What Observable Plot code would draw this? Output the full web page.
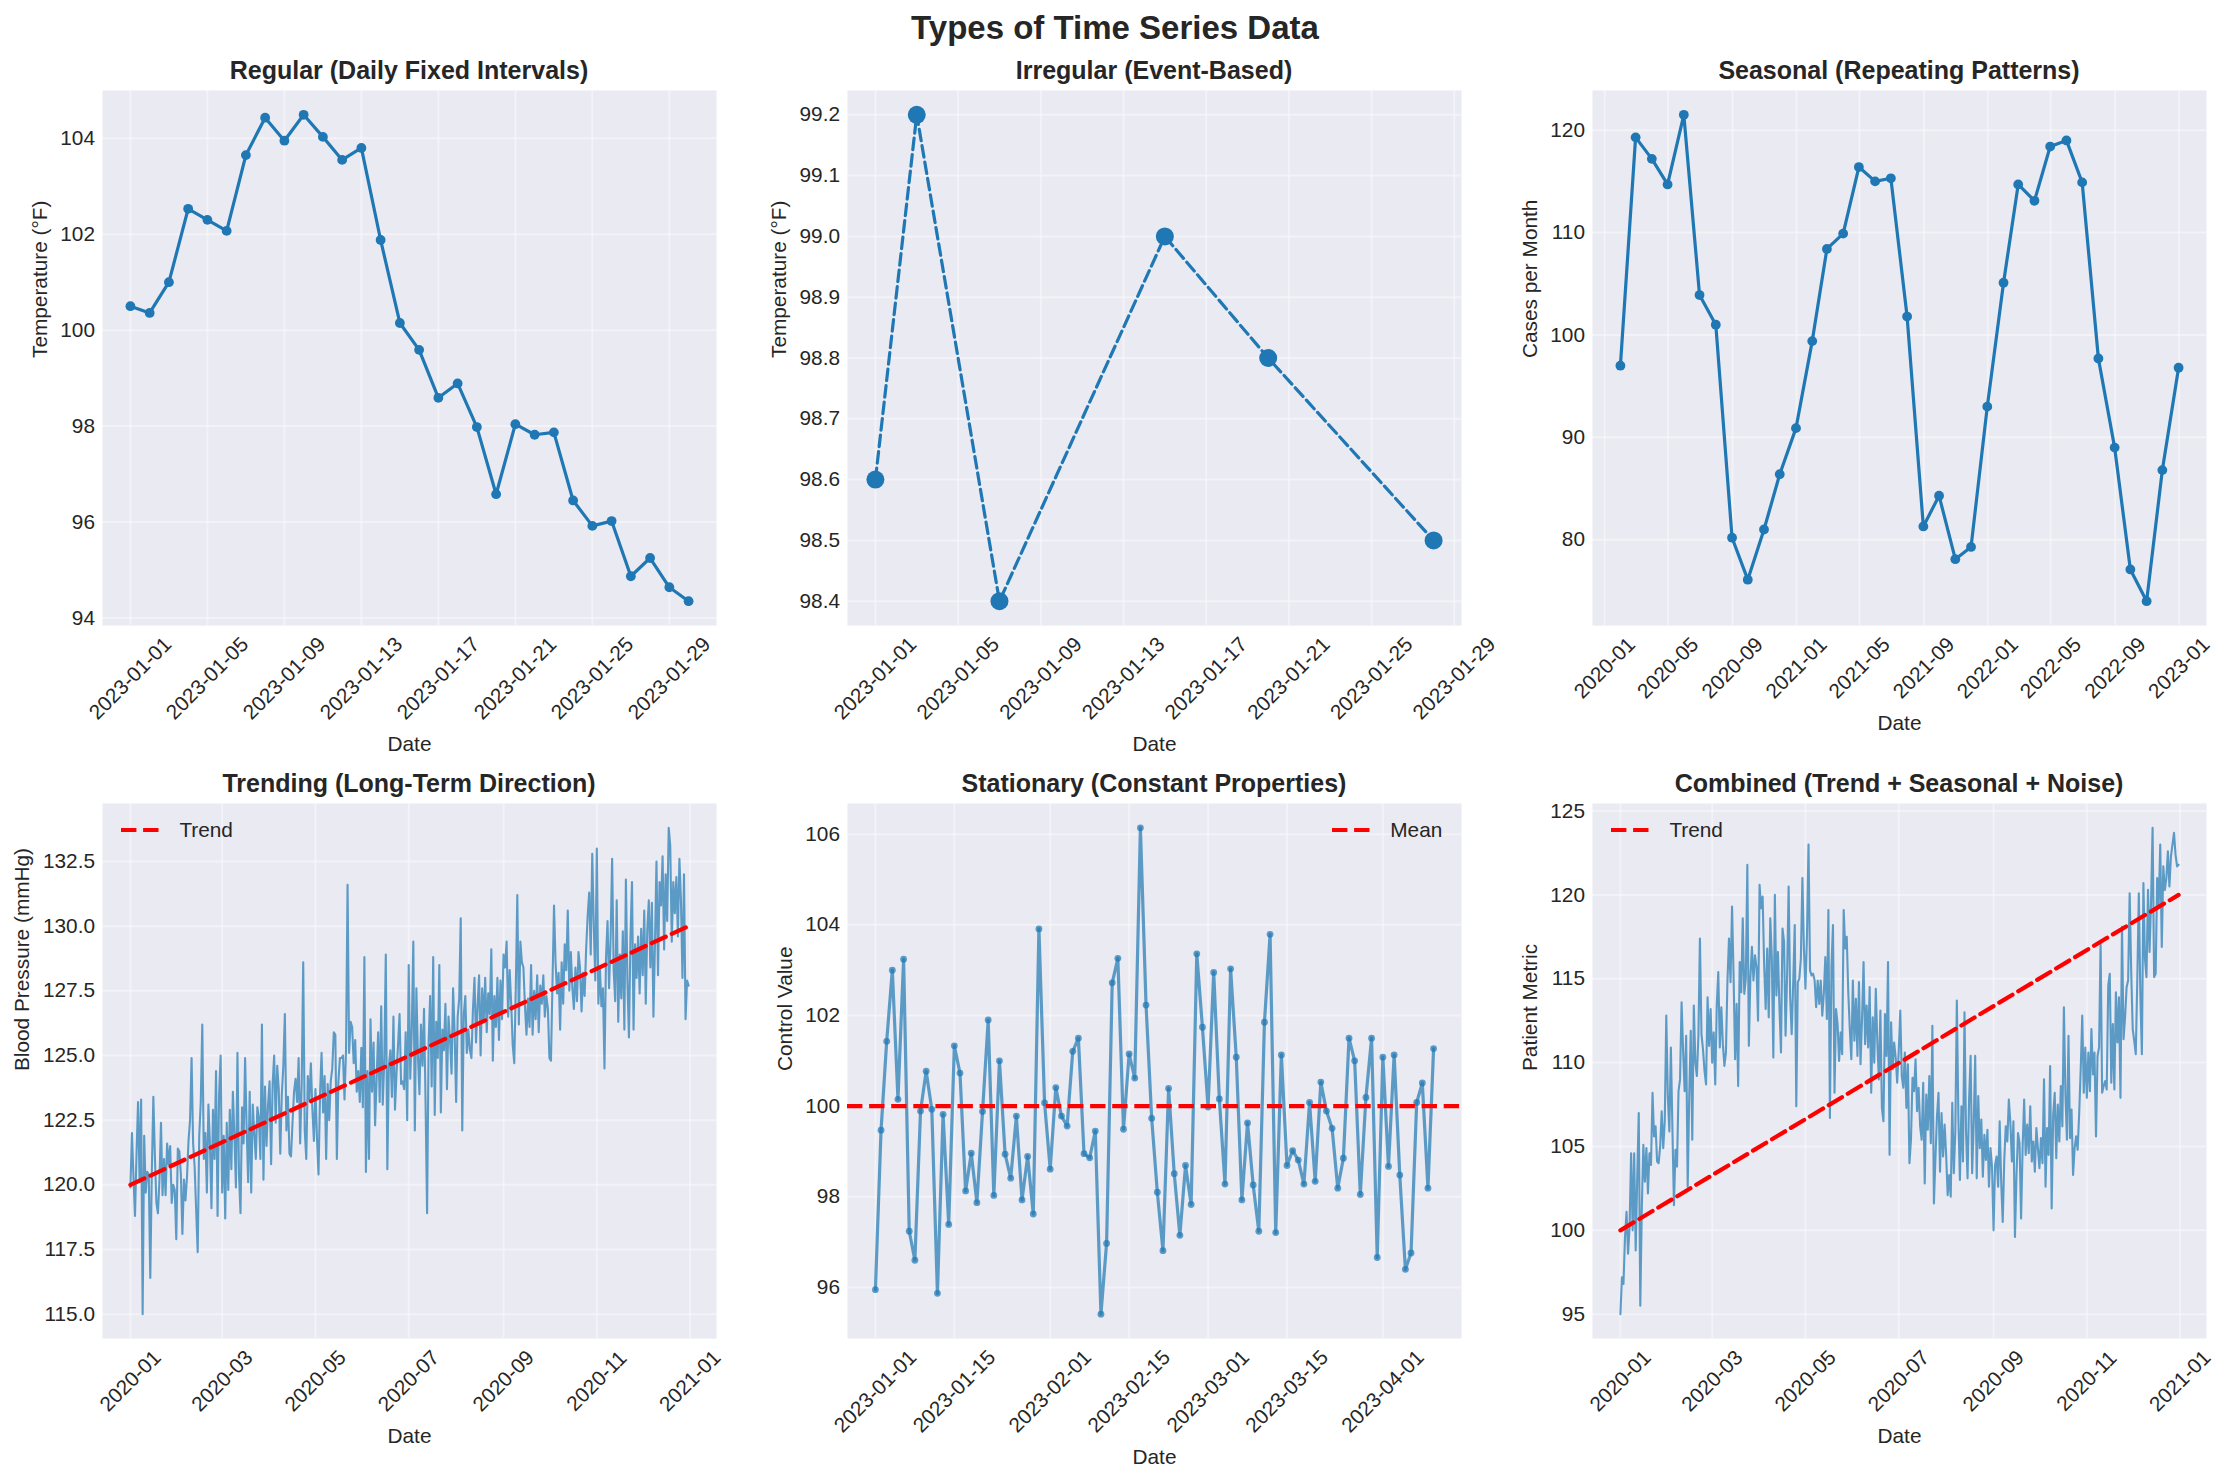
<!DOCTYPE html>
<html><head><meta charset="utf-8">
<script src="https://cdn.jsdelivr.net/npm/d3@7"></script>
<script src="https://cdn.jsdelivr.net/npm/@observablehq/plot@0.6"></script>
<style>
html,body{margin:0;padding:0;background:#fff;}
#fig{position:relative;width:2230px;height:1476px;overflow:hidden;font-family:"Liberation Sans",Arial,Helvetica,sans-serif;color:#262626;background:#fff;}
.abs{position:absolute;}
.suptitle{left:0;width:2230px;top:8px;text-align:center;font-weight:bold;font-size:33px;line-height:40px;}
.ptitle{text-align:center;font-weight:bold;font-size:25px;line-height:30px;white-space:nowrap;}
.legend{font-size:20.8px;display:flex;align-items:center;height:30px;line-height:30px;}
</style></head>
<body><div id="fig"></div>
<script>
// ---------------- DATA ----------------
const regularStart = "2023-01-01";
const regularValues = [100.5, 100.36, 101.0, 102.53, 102.3, 102.07, 103.65, 104.43, 103.95, 104.49,
  104.03, 103.55, 103.8, 101.88, 100.15, 99.59, 98.59, 98.89, 97.98, 96.58,
  98.04, 97.82, 97.87, 96.45, 95.92, 96.02, 94.87, 95.25, 94.64, 94.35];
const regularTickLabels = ["2023-01-01","2023-01-05","2023-01-09","2023-01-13","2023-01-17","2023-01-21","2023-01-25","2023-01-29"];
const regularYTicks = [94, 96, 98, 100, 102, 104];

const irregularDates = ["2023-01-01","2023-01-03","2023-01-07","2023-01-15","2023-01-20","2023-01-28"];
const irregularValues = [98.6, 99.2, 98.4, 99.0, 98.8, 98.5];
const irregularTickLabels = regularTickLabels;
const irregularYTicks = [98.4, 98.5, 98.6, 98.7, 98.8, 98.9, 99.0, 99.1, 99.2];

const seasonalFirstMonthEnd = "2020-01-31";
const seasonalValues = [
  97.0, 119.3, 117.2, 114.7, 121.5, 103.9, 101.0, 80.2, 76.1, 81.0, 86.4, 90.9,
  99.4, 108.4, 109.9, 116.4, 115.0, 115.3, 101.8, 81.3, 84.3, 78.1, 79.3, 93.0,
  105.1, 114.7, 113.1, 118.4, 119.0, 114.9, 97.7, 89.0, 77.1, 74.0, 86.8, 96.8];
const seasonalTickLabels = ["2020-01","2020-05","2020-09","2021-01","2021-05","2021-09","2022-01","2022-05","2022-09","2023-01"];
const seasonalYTicks = [80, 90, 100, 110, 120];

const trendingStart = "2020-01-01";
const trendingValues = [
  // Jan
  119.9,122.0,120.3,118.8,121.2,123.2,120.1,123.3,115.0,121.9,119.7,120.5,120.4,116.4,120.5,123.4,121.1,119.3,118.9,120.2,122.4,119.6,121.0,119.6,121.6,120.8,121.5,119.3,120.0,119.8,117.9,
  // Feb
  121.4,121.3,120.4,118.1,120.2,119.4,120.3,121.7,122.5,124.9,121.6,120.7,119.0,117.4,121.9,123.2,126.2,121.0,122.0,119.7,123.1,121.6,119.1,122.9,121.0,124.4,118.8,123.5,125.0,
  // Mar
  119.7,121.9,118.7,122.4,119.8,122.9,120.6,123.6,121.9,119.9,125.1,120.4,118.9,123.0,121.6,124.9,122.2,120.1,123.6,119.7,123.1,122.0,121.0,123.0,122.6,121.0,126.2,120.2,123.8,121.5,123.1,
  // Apr
  124.0,120.8,123.9,125.0,122.4,124.6,123.7,121.2,123.5,124.6,126.6,122.1,123.4,121.2,121.1,122.4,123.6,124.1,123.2,124.9,121.6,123.9,128.6,122.1,121.0,124.2,123.3,124.7,122.9,121.7,
  // May
  123.7,121.8,120.4,123.5,125.1,122.8,124.2,121.0,123.9,122.5,124.0,124.5,125.9,125.8,121.0,124.0,124.9,124.9,125.0,123.3,125.2,131.6,125.1,126.3,126.1,124.7,125.6,123.6,124.4,123.2,125.3,
  // Jun
  123.0,128.8,120.5,124.4,121.0,126.4,123.6,125.5,122.3,124.1,125.9,123.2,126.9,123.1,124.8,128.9,120.6,124.6,125.2,123.4,126.5,122.9,124.3,125.4,126.6,123.9,124.0,123.7,125.9,122.5,
  // Jul
  128.5,124.1,126.0,129.4,122.1,127.6,125.0,123.5,126.2,124.6,126.8,123.2,118.9,125.5,127.3,123.8,128.8,122.7,126.3,124.9,128.5,122.8,126.0,125.2,127.0,123.7,126.5,125.6,124.3,127.6,125.9,
  // Aug
  123.2,126.5,127.2,130.3,122.1,126.6,127.3,125.1,126.0,125.2,124.9,126.8,128.0,125.5,126.9,128.1,125.0,127.6,126.3,128.0,125.9,127.4,126.6,129.1,124.8,127.3,126.1,128.0,125.6,127.9,126.4,
  // Sep
  128.9,128.4,129.4,126.5,128.3,127.0,125.4,124.7,127.6,131.2,126.2,129.4,128.6,128.4,126.9,125.8,127.2,126.1,128.5,125.8,127.5,126.4,128.1,125.9,127.7,127.0,128.1,126.5,127.3,126.8,
  // Oct
  124.9,124.8,127.8,130.8,128.6,127.4,128.2,126.0,128.6,127.0,129.3,128.3,130.6,127.5,129.0,127.6,126.8,128.4,127.1,129.0,128.4,126.7,128.2,127.3,129.1,130.4,131.3,128.9,132.8,130.0,127.9,
  // Nov
  133.0,127.0,128.4,126.9,127.6,124.5,128.8,130.2,127.6,129.5,132.6,128.3,127.1,131.0,126.3,128.9,127.2,129.8,126.0,131.8,127.9,125.7,129.6,131.7,126.0,129.3,128.0,129.6,127.4,129.9,
  // Dec
  128.1,130.6,127.0,129.9,131.0,128.4,130.9,126.5,129.3,132.5,128.1,131.7,130.8,132.7,129.1,132.0,130.2,133.8,133.1,129.4,131.7,130.5,131.9,129.6,132.6,131.0,128.0,132.0,126.4,127.9,127.7];
const trendingTrendEnds = [120, 130];
const trendingTickLabels = ["2020-01-01","2020-03-01","2020-05-01","2020-07-01","2020-09-01","2020-11-01","2021-01-01"];
const trendingYTicks = [115, 117.5, 120, 122.5, 125, 127.5, 130, 132.5];

const stationaryStart = "2023-01-01";
const stationaryValues = [
  95.95, 99.47, 101.43, 103.0, 100.15, 103.24, 97.24, 96.6, 99.89, 100.77,
  99.93, 95.87, 99.82, 97.39, 101.33, 100.73, 98.13, 98.96, 97.87, 99.88,
  101.9, 98.03, 101.0, 98.94, 98.41, 99.78, 97.93, 98.89, 97.62, 103.91,
  100.07, 98.61, 100.41, 99.78, 99.56, 101.21, 101.5, 98.95, 98.86, 99.45,
  95.41, 96.97, 102.72, 103.26, 99.49, 101.15, 100.62, 106.14, 102.23, 99.73,
  98.1, 96.81, 100.39, 98.51, 97.15, 98.69, 97.83, 103.36, 101.74, 99.98,
  102.95, 100.16, 98.28, 103.03, 101.08, 97.93, 99.63, 98.26, 97.24, 101.85,
  103.79, 97.21, 101.13, 98.69, 99.02, 98.81, 98.28, 100.08, 98.34, 100.53,
  99.89, 99.51, 98.19, 98.85, 101.5, 101.0, 98.05, 100.19, 101.5, 96.66,
  101.08, 98.67, 101.13, 98.48, 96.4, 96.76, 100.08, 100.51, 98.19, 101.27];
const stationaryMean = [100];
const stationaryTickLabels = ["2023-01-01","2023-01-15","2023-02-01","2023-02-15","2023-03-01","2023-03-15","2023-04-01"];
const stationaryYTicks = [96, 98, 100, 102, 104, 106];

const combinedStart = "2020-01-01";
const combinedValues = [
  // Jan
  95.0,97.2,96.8,99.6,101.1,98.6,100.2,104.6,100.0,104.6,98.8,103.2,107.0,95.5,101.4,105.1,102.9,104.9,102.2,104.6,103.9,108.2,105.6,106.2,104.1,104.0,105.0,107.1,104.9,106.5,112.8,
  // Feb
  108.0,105.9,110.9,106.1,101.5,104.8,103.8,108.3,109.0,113.6,110.7,108.3,111.6,102.6,108.0,111.9,105.4,113.4,110.0,109.2,111.6,117.4,111.7,110.8,109.5,108.7,113.9,111.0,113.2,
  // Mar
  110.0,111.8,108.7,113.4,115.4,110.9,113.3,111.1,109.8,110.6,114.9,117.4,114.8,119.3,115.2,110.2,113.5,108.6,116.0,114.2,118.6,114.1,115.0,121.8,111.0,115.1,116.9,114.9,116.4,115.7,112.5,
  // Apr
  120.6,119.2,119.9,115.8,113.2,116.8,112.7,118.6,116.3,110.3,120.0,114.0,116.6,113.3,110.6,118.0,117.2,111.6,115.2,120.5,113.9,111.7,114.8,118.2,107.4,114.8,115.0,116.2,121.0,116.8,
  // May
  114.4,117.6,123.0,115.5,115.2,115.3,114.9,113.3,114.9,113.5,114.9,112.8,114.1,116.3,112.6,119.1,106.7,115.7,118.2,108.2,113.2,112.3,110.1,111.8,110.5,119.1,116.8,117.5,114.2,112.0,110.2,
  // Jun
  114.9,111.3,113.8,110.4,114.8,109.9,112.6,116.0,111.1,113.4,110.9,114.5,108.2,112.7,110.0,114.4,111.2,109.0,113.1,107.3,106.5,112.9,110.4,116.0,104.5,112.4,109.6,111.2,110.3,108.8,
  // Jul
  110.7,113.1,109.2,108.5,110.6,107.3,109.9,104.0,105.4,109.1,108.3,110.2,107.1,108.5,106.2,105.4,108.8,102.8,108.1,106.0,109.2,105.2,112.2,101.6,104.3,106.8,108.2,103.5,107.0,104.4,106.3,
  // Aug
  104.5,102.1,103.3,102.0,107.6,103.4,105.9,113.7,106.7,103.0,107.4,104.1,113.0,105.9,103.1,107.8,110.4,103.4,106.3,110.4,103.1,108.0,104.9,106.6,103.2,105.7,104.2,106.0,102.6,104.9,103.8,
  // Sep
  100.0,103.9,104.4,102.6,106.5,102.9,100.5,104.2,106.2,105.3,107.8,106.4,104.1,106.5,99.6,103.3,105.8,105.2,100.7,104.9,107.8,104.5,106.3,104.6,107.4,104.1,105.3,103.5,106.1,104.9,
  // Oct
  103.7,105.5,104.0,109.0,102.6,106.1,104.5,109.8,101.3,106.9,108.2,104.3,107.5,105.3,108.6,106.2,113.3,108.1,105.4,111.6,105.5,107.2,103.3,104.9,105.6,104.8,107.0,109.6,112.8,108.2,110.9,
  // Nov
  107.9,110.6,108.3,112.0,109.3,110.6,105.6,110.4,110.9,117.2,108.2,108.6,108.9,108.4,114.6,115.3,108.8,112.3,108.4,114.2,111.2,113.9,107.9,118.1,111.4,112.7,114.5,114.9,120.1,115.5,
  // Dec
  112.0,111.3,110.5,115.0,120.1,114.0,110.5,120.7,116.2,115.1,120.3,116.6,119.6,124.0,115.1,115.3,121.0,119.4,123.0,116.9,121.7,120.3,121.0,122.6,120.5,122.3,123.0,123.7,122.4,121.7,121.8];
const combinedTrendEnds = [100, 120];
const combinedTickLabels = trendingTickLabels;
const combinedYTicks = [95, 100, 105, 110, 115, 120, 125];

// ---------------- HELPERS ----------------
const FONT = '"Liberation Sans", Arial, Helvetica, sans-serif';
const BLUE = "#1f77b4";
const TXT = "#262626";
const DAY = 864e5;
const parse = s => new Date((s.length === 7 ? s + "-01" : s) + "T00:00:00Z");
const daily = (start, n) => d3.range(n).map(i => new Date(parse(start).getTime() + i * DAY));
function padExtent(vals) { const [a, b] = d3.extent(vals, v => +v); const p = (b - a) * 0.05; return [a - p, b + p]; }
function padDates(vals) { const [a, b] = padExtent(vals); return [new Date(a), new Date(b)]; }
const rows = (dates, values) => dates.map((d, i) => ({date: d, value: values[i]}));

const fig = document.getElementById("fig");
const FW = 614, FH = 535;
const COLX = [102, 847, 1592];
const ROWY = [90, 803];

function addDiv(cls, text, css) {
  const d = document.createElement("div");
  d.className = "abs " + cls;
  d.textContent = text;
  Object.assign(d.style, css);
  fig.append(d);
  return d;
}

function panel(cfg) {
  const fx = COLX[cfg.col], fy = ROWY[cfg.row];
  const ml = 120, mr = 20, mt = 10, mb = 150;
  const svg = Plot.plot({
    width: FW + ml + mr, height: FH + mt + mb,
    marginLeft: ml, marginRight: mr, marginTop: mt, marginBottom: mb,
    style: {background: "transparent", overflow: "visible", fontFamily: FONT, fontSize: "20.8px", color: TXT, maxWidth: "none"},
    x: {type: "utc", domain: cfg.xDomain, label: null},
    y: {type: "linear", domain: cfg.yDomain, label: null},
    marks: [
      Plot.frame({fill: "#EAEAF2"}),
      Plot.gridX({ticks: cfg.xTicks, stroke: "white", strokeOpacity: 0.38, strokeWidth: 2}),
      Plot.gridY({ticks: cfg.yTicks, stroke: "white", strokeOpacity: 0.38, strokeWidth: 2}),
      ...cfg.marks,
      Plot.axisX({ticks: cfg.xTicks, tickFormat: cfg.xFormat, tickSize: 0, tickRotate: -45,
        textAnchor: "middle", lineAnchor: "middle", tickPadding: cfg.xPad, fontSize: 20.8, fill: TXT, label: null}),
      Plot.axisY({ticks: cfg.yTicks, tickFormat: cfg.yFormat, tickSize: 0, tickPadding: 7.5, fontSize: 20.8, fill: TXT, label: null}),
      Plot.text(["Date"], {text: d => d, frameAnchor: "bottom", dy: cfg.dateDy, fontSize: 20.8, fill: TXT, lineAnchor: "middle"}),
      Plot.text([cfg.ylabel], {text: d => d, frameAnchor: "left", dx: cfg.ylabelDx, rotate: -90, fontSize: 20.8, fill: TXT, lineAnchor: "middle"})
    ]
  });
  svg.style.position = "absolute";
  svg.style.left = (fx - ml) + "px";
  svg.style.top = (fy - mt) + "px";
  fig.append(svg);
  addDiv("ptitle", cfg.title, {left: fx + "px", width: FW + "px", top: (fy - 35) + "px"});
  if (cfg.legend) addLegend(cfg.legend, fx, fy, cfg.legendSide);
}

function addLegend(label, fx, fy, side) {
  const d = document.createElement("div");
  d.className = "abs legend";
  d.innerHTML = '<svg width="42" height="12" style="overflow:visible"><line x1="0" y1="6" x2="41.7" y2="6" stroke="red" stroke-width="4.2" stroke-dasharray="15.4 6.7"/></svg><span style="margin-left:16.7px"></span>';
  d.querySelector("span").textContent = label;
  d.style.top = (fy + 27 - 15) + "px";
  if (side === "left") d.style.left = (fx + 18.7) + "px";
  else d.style.right = (2230 - (fx + FW) + 18.7) + "px";
  fig.append(d);
}

addDiv("suptitle", "Types of Time Series Data", {});

const fmtDay = d3.utcFormat("%Y-%m-%d");
const fmtMonth = d3.utcFormat("%Y-%m");
const f1 = d3.format(".1f");
const f0 = d3.format("d");

// 1. Regular
const regData = rows(daily(regularStart, regularValues.length), regularValues);
panel({
  col: 0, row: 0, title: "Regular (Daily Fixed Intervals)", ylabel: "Temperature (°F)", ylabelDx: -62,
  xDomain: padDates(regData.map(d => d.date)), yDomain: padExtent(regularValues),
  xTicks: regularTickLabels.map(parse), xFormat: fmtDay, xPad: 53, dateDy: 119,
  yTicks: regularYTicks, yFormat: f0,
  marks: [
    Plot.line(regData, {x: "date", y: "value", stroke: BLUE, strokeWidth: 3.2}),
    Plot.dot(regData, {x: "date", y: "value", r: 4.9, fill: BLUE})
  ]
});

// 2. Irregular
const irrData = rows(irregularDates.map(parse), irregularValues);
panel({
  col: 1, row: 0, title: "Irregular (Event-Based)", ylabel: "Temperature (°F)", ylabelDx: -68,
  xDomain: padDates(irrData.map(d => d.date)), yDomain: padExtent(irregularValues),
  xTicks: irregularTickLabels.map(parse), xFormat: fmtDay, xPad: 53, dateDy: 119,
  yTicks: irregularYTicks, yFormat: f1,
  marks: [
    Plot.line(irrData, {x: "date", y: "value", stroke: BLUE, strokeWidth: 3.2, strokeDasharray: "11.6 5"}),
    Plot.dot(irrData, {x: "date", y: "value", r: 9, fill: BLUE})
  ]
});

// 3. Seasonal (month ends)
const seasDates = d3.range(seasonalValues.length).map(i =>
  d3.utcDay.offset(d3.utcMonth.offset(d3.utcMonth.floor(parse(seasonalFirstMonthEnd)), i + 1), -1));
const seasData = rows(seasDates, seasonalValues);
panel({
  col: 2, row: 0, title: "Seasonal (Repeating Patterns)", ylabel: "Cases per Month", ylabelDx: -62,
  xDomain: padDates(seasDates), yDomain: padExtent(seasonalValues),
  xTicks: seasonalTickLabels.map(parse), xFormat: fmtMonth, xPad: 42.5, dateDy: 98,
  yTicks: seasonalYTicks, yFormat: f0,
  marks: [
    Plot.line(seasData, {x: "date", y: "value", stroke: BLUE, strokeWidth: 3.2}),
    Plot.dot(seasData, {x: "date", y: "value", r: 4.9, fill: BLUE})
  ]
});

// 4. Trending
const trDates = daily(trendingStart, trendingValues.length);
const trData = rows(trDates, trendingValues);
const trTrend = rows([trDates[0], trDates[trDates.length - 1]], trendingTrendEnds);
panel({
  col: 0, row: 1, title: "Trending (Long-Term Direction)", ylabel: "Blood Pressure (mmHg)", ylabelDx: -80,
  xDomain: padDates(trDates), yDomain: padExtent(trendingValues.concat(trendingTrendEnds)),
  xTicks: trendingTickLabels.map(parse), xFormat: fmtMonth, xPad: 42.5, dateDy: 98,
  yTicks: trendingYTicks, yFormat: f1,
  legend: "Trend", legendSide: "left",
  marks: [
    Plot.line(trData, {x: "date", y: "value", stroke: BLUE, strokeWidth: 2.1, strokeOpacity: 0.7}),
    Plot.line(trTrend, {x: "date", y: "value", stroke: "red", strokeWidth: 4.2, strokeDasharray: "15.4 6.7"})
  ]
});

// 5. Stationary
const stDates = daily(stationaryStart, stationaryValues.length);
const stData = rows(stDates, stationaryValues);
panel({
  col: 1, row: 1, title: "Stationary (Constant Properties)", ylabel: "Control Value", ylabelDx: -62,
  xDomain: padDates(stDates), yDomain: padExtent(stationaryValues),
  xTicks: stationaryTickLabels.map(parse), xFormat: fmtDay, xPad: 53, dateDy: 119,
  yTicks: stationaryYTicks, yFormat: f0,
  legend: "Mean", legendSide: "right",
  marks: [
    Plot.line(stData, {x: "date", y: "value", stroke: BLUE, strokeWidth: 3.2, strokeOpacity: 0.7}),
    Plot.dot(stData, {x: "date", y: "value", r: 3.4, fill: BLUE, fillOpacity: 0.7}),
    Plot.ruleY(stationaryMean, {stroke: "red", strokeWidth: 4.2, strokeDasharray: "15.4 6.7"})
  ]
});

// 6. Combined
const cbDates = daily(combinedStart, combinedValues.length);
const cbData = rows(cbDates, combinedValues);
const cbTrend = rows([cbDates[0], cbDates[cbDates.length - 1]], combinedTrendEnds);
panel({
  col: 2, row: 1, title: "Combined (Trend + Seasonal + Noise)", ylabel: "Patient Metric", ylabelDx: -62,
  xDomain: padDates(cbDates), yDomain: padExtent(combinedValues.concat(combinedTrendEnds)),
  xTicks: combinedTickLabels.map(parse), xFormat: fmtMonth, xPad: 42.5, dateDy: 98,
  yTicks: combinedYTicks, yFormat: f0,
  legend: "Trend", legendSide: "left",
  marks: [
    Plot.line(cbData, {x: "date", y: "value", stroke: BLUE, strokeWidth: 2.1, strokeOpacity: 0.7}),
    Plot.line(cbTrend, {x: "date", y: "value", stroke: "red", strokeWidth: 4.2, strokeDasharray: "15.4 6.7"})
  ]
});
</script></body></html>
